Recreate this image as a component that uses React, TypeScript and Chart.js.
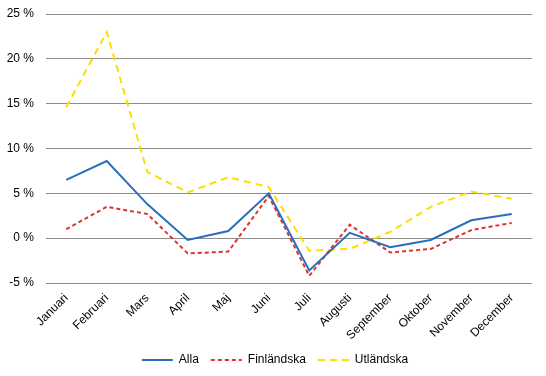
import React, { useEffect, useRef } from "react";
import { Chart, registerables } from "chart.js";

Chart.register(...registerables);

const months = ["Januari", "Februari", "Mars", "April", "Maj", "Juni", "Juli", "Augusti", "September", "Oktober", "November", "December"];
const alla = [6.5, 8.6, 3.8, -0.2, 0.8, 5.0, -3.6, 0.6, -1.0, -0.2, 2.0, 2.7];
const finlandska = [1.0, 3.5, 2.7, -1.7, -1.5, 4.7, -4.2, 1.5, -1.6, -1.2, 0.9, 1.7];
const utlandska = [14.6, 23.0, 7.4, 5.1, 6.8, 5.7, -1.4, -1.2, 0.7, 3.5, 5.2, 4.4];

const FONT = "'Liberation Sans', Arial, sans-serif";

const legendShift = {
  id: "legendShift",
  afterLayout(chart: any) {
    const l = chart.legend;
    if (l) { l.left += 9; l.right += 9; }
  },
};

export default function App() {
  const ref = useRef<HTMLCanvasElement | null>(null);
  useEffect(() => {
    document.body.style.margin = "0";
    const chart = new Chart(ref.current!, {
      type: "line",
      data: {
        labels: months,
        datasets: [
          { label: "Alla", data: alla, borderColor: "#2A6EBB", backgroundColor: "#2A6EBB", borderWidth: 2, pointRadius: 0, tension: 0 },
          { label: "Finländska", data: finlandska, borderColor: "#E0312F", backgroundColor: "#E0312F", borderWidth: 2, borderDash: [4, 3], pointRadius: 0, tension: 0 },
          { label: "Utländska", data: utlandska, borderColor: "#FFDD00", backgroundColor: "#FFDD00", borderWidth: 2, borderDash: [7, 5], pointRadius: 0, tension: 0 },
        ],
      },
      plugins: [legendShift],
      options: {
        animation: false,
        responsive: false,
        layout: { padding: { top: 14, right: 14, bottom: 0, left: 0 } },
        plugins: {
          tooltip: { enabled: false },
          legend: {
            position: "bottom",
            labels: {
              usePointStyle: true,
              pointStyle: "line",
              pointStyleWidth: 31,
              boxHeight: 8,
              padding: 12,
              color: "#000",
              font: { family: FONT, size: 12 },
              generateLabels: (c: any) => {
                const items = Chart.defaults.plugins.legend.labels.generateLabels(c);
                return items.map((it: any, i: number) => ({
                  ...it,
                  lineDash: (c.data.datasets[i] as any).borderDash || [],
                  lineWidth: 2,
                  strokeStyle: (c.data.datasets[i] as any).borderColor,
                }));
              },
            },
          },
        },
        scales: {
          x: {
            offset: true,
            afterFit: (s: any) => { s.height = 59; },
            grid: { display: false, drawTicks: false },
            border: { display: false },
            ticks: { minRotation: 45, maxRotation: 45, color: "#000", font: { family: FONT, size: 12 }, padding: 8 },
          },
          y: {
            min: -5,
            max: 25,
            afterFit: (s: any) => { s.width = 46; s.paddingTop = 0; s.paddingBottom = 0; },
            ticks: { stepSize: 5, color: "#000", font: { family: FONT, size: 12 }, padding: 12, callback: (v: any) => `${v} %` },
            grid: { color: "#8C8C8C", drawTicks: false, lineWidth: 1 },
            border: { display: false },
          },
        },
      },
    });
    return () => chart.destroy();
  }, []);
  return (
    <div style={{ width: 546, height: 376 }}>
      <canvas ref={ref} width={546} height={376} />
    </div>
  );
}
